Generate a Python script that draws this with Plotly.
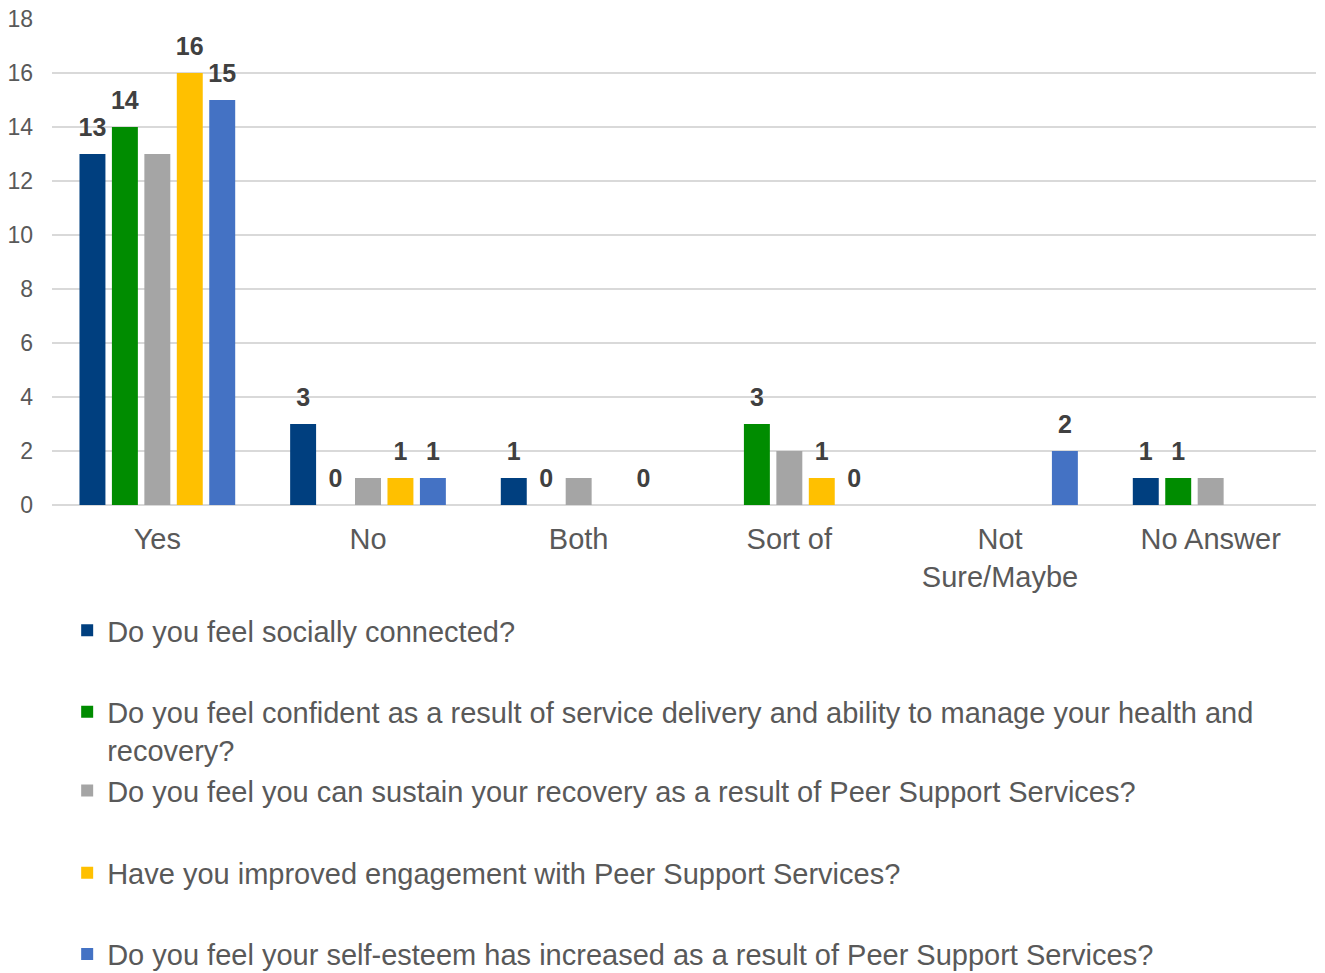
import plotly.graph_objects as go

categories = ["Yes", "No", "Both", "Sort of", "Not<br>Sure/Maybe", "No Answer"]

series_names = [
    "Do you feel socially connected?",
    "Do you feel confident as a result of service delivery and ability to manage your health and<br>recovery?",
    "Do you feel you can sustain your recovery as a result of Peer Support Services?",
    "Have you improved engagement with Peer Support Services?",
    "Do you feel your self-esteem has increased as a result of Peer Support Services?",
]

socially_connected = [13, 3, 1, None, None, 1]
confident = [14, 0, 0, 3, None, 1]
sustain_recovery = [13, 1, 1, 2, None, 1]
improved_engagement = [16, 1, None, 1, None, None]
self_esteem = [15, 1, 0, 0, 2, None]

values = [socially_connected, confident, sustain_recovery, improved_engagement, self_esteem]
show_labels = [True, True, False, True, True]
colors = ["#003F7F", "#008C00", "#A5A5A5", "#FFC000", "#4472C4"]

legend_y = [-0.258, -0.465, -0.588, -0.757, -0.924]

fig = go.Figure()
for i, (name, vals, col) in enumerate(zip(series_names, values, colors)):
    lg = "legend" if i == 0 else f"legend{i+1}"
    fig.add_trace(go.Bar(
        x=categories, y=vals, name=name, marker_color=col,
        marker_line_width=0, offsetgroup=str(i), legend=lg,
    ))
for i, (vals, show) in enumerate(zip(values, show_labels)):
    fig.add_trace(go.Scatter(
        x=categories, y=vals, mode="markers+text",
        text=[("" if v is None else str(v)) if show else "" for v in vals],
        textposition="top center",
        textfont=dict(family="Liberation Sans", size=25, color="#404040", weight="bold"),
        marker=dict(size=17, opacity=0),
        offsetgroup=str(i), showlegend=False, hoverinfo="skip", cliponaxis=False,
    ))

layout_legends = {}
for i, y in enumerate(legend_y):
    key = "legend" if i == 0 else f"legend{i+1}"
    layout_legends[key] = dict(
        x=0.012, xanchor="left", y=y, yanchor="middle", valign="top",
        font=dict(family="Liberation Sans", size=29, color="#595959"),
        bgcolor="rgba(0,0,0,0)", itemclick=False,
    )

fig.update_layout(
    width=1325, height=973,
    margin=dict(l=52, r=9, t=19, b=468, autoexpand=False),
    paper_bgcolor="white", plot_bgcolor="white",
    barmode="group", bargap=0.23, bargroupgap=0.2,
    scattermode="group", scattergap=0.23,
    font=dict(family="Liberation Sans", color="#595959"),
    showlegend=True,
    xaxis=dict(
        tickfont=dict(size=29, color="#595959"), showgrid=False,
        showline=False, ticks="", ticklabelstandoff=14, automargin=False,
    ),
    yaxis=dict(
        range=[0, 18], dtick=2, tickfont=dict(size=23, color="#595959"),
        showgrid=True, gridcolor="#D9D9D9", gridwidth=2,
        zeroline=True, zerolinecolor="#D9D9D9", zerolinewidth=2,
        ticks="", ticklabelstandoff=18, automargin=False,
    ),
    **layout_legends,
)

fig.write_html("out.html")
